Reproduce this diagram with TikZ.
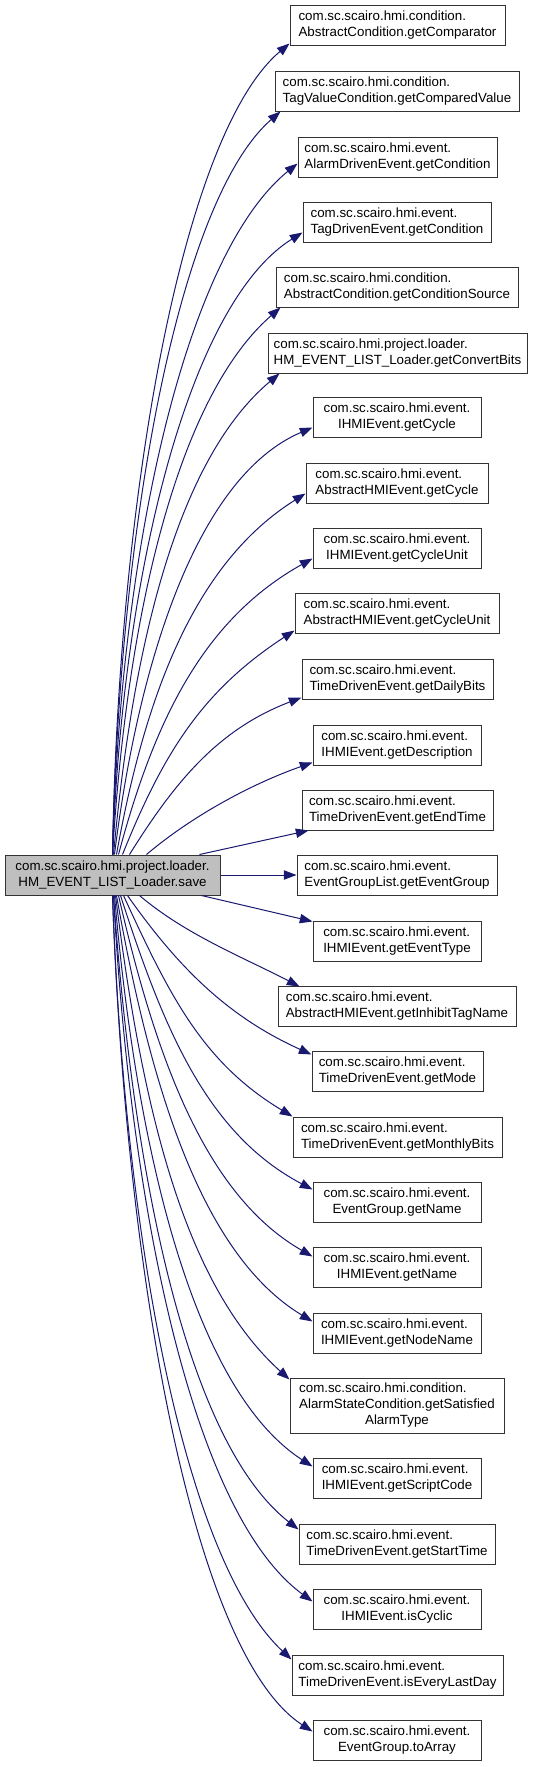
\documentclass[tikz,border=0pt]{standalone}
\usepackage{fontspec}
\setmainfont{Liberation Sans}
\usetikzlibrary{arrows.meta,calc}
\definecolor{edgeblue}{HTML}{191970}
\definecolor{mainfill}{HTML}{BFBFBF}
\newcommand\twol[2]{%
  \setbox0=\hbox{#1}\setbox2=\hbox{#2}%
  \dimen0=\wd0 \ifdim\wd2>\dimen0 \dimen0=\wd2\fi
  \vbox{\hbox to\dimen0{#1\hfil}\hbox to\dimen0{\hfil#2\hfil}}}
\newcommand\threel[3]{%
  \setbox0=\hbox{#1}\setbox2=\hbox{#2}\setbox4=\hbox{#3}%
  \dimen0=\wd0 \ifdim\wd2>\dimen0 \dimen0=\wd2\fi
  \ifdim\wd4>\dimen0 \dimen0=\wd4\fi
  \vbox{\hbox to\dimen0{#1\hfil}\hbox to\dimen0{#2\hfil}\hbox to\dimen0{\hfil#3\hfil}}}
\begin{document}
\begin{tikzpicture}[x=0.75pt,y=-0.75pt,
  box/.style={draw=black!80, fill=white, line width=0.75pt, inner sep=0pt,
    minimum height=30pt, font=\fontsize{10}{12}\selectfont},
  wbox/.style={box, minimum width=#1*0.75pt},
  conn/.style={draw=edgeblue, line width=0.75pt, -{Triangle[length=9.5pt,width=7pt]}}]
\useasboundingbox[fill=white] (0,0) rectangle (532,1767);

\node[wbox=215, fill=mainfill] (main) at (112.5,875) {\twol{com.sc.scairo.hmi.project.loader.}{HM\_EVENT\_LIST\_Loader.save}};

\node[wbox=215] (t0) at (397.5,25) {\twol{com.sc.scairo.hmi.condition.}{AbstractCondition.getComparator}};
\node[wbox=244] (t1) at (397,91) {\twol{com.sc.scairo.hmi.condition.}{TagValueCondition.getComparedValue}};
\node[wbox=199] (t2) at (397.5,157) {\twol{com.sc.scairo.hmi.event.}{AlarmDrivenEvent.getCondition}};
\node[wbox=188] (t3) at (397,222) {\twol{com.sc.scairo.hmi.event.}{TagDrivenEvent.getCondition}};
\node[wbox=242] (t4) at (397,287) {\twol{com.sc.scairo.hmi.condition.}{AbstractCondition.getConditionSource}};
\node[wbox=259] (t5) at (397.5,353) {\twol{com.sc.scairo.hmi.project.loader.}{HM\_EVENT\_LIST\_Loader.getConvertBits}};
\node[wbox=168] (t6) at (397,417) {\twol{com.sc.scairo.hmi.event.}{IHMIEvent.getCycle}};
\node[wbox=182] (t7) at (397,483) {\twol{com.sc.scairo.hmi.event.}{AbstractHMIEvent.getCycle}};
\node[wbox=168] (t8) at (397,548) {\twol{com.sc.scairo.hmi.event.}{IHMIEvent.getCycleUnit}};
\node[wbox=204] (t9) at (397,613) {\twol{com.sc.scairo.hmi.event.}{AbstractHMIEvent.getCycleUnit}};
\node[wbox=191] (t10) at (397.5,679) {\twol{com.sc.scairo.hmi.event.}{TimeDrivenEvent.getDailyBits}};
\node[wbox=168] (t11) at (397,745) {\twol{com.sc.scairo.hmi.event.}{IHMIEvent.getDescription}};
\node[wbox=191] (t12) at (397.5,810) {\twol{com.sc.scairo.hmi.event.}{TimeDrivenEvent.getEndTime}};
\node[wbox=200] (t13) at (397,875) {\twol{com.sc.scairo.hmi.event.}{EventGroupList.getEventGroup}};
\node[wbox=168] (t14) at (397,941) {\twol{com.sc.scairo.hmi.event.}{IHMIEvent.getEventType}};
\node[wbox=238] (t15) at (397,1006) {\twol{com.sc.scairo.hmi.event.}{AbstractHMIEvent.getInhibitTagName}};
\node[wbox=171] (t16) at (397.5,1071) {\twol{com.sc.scairo.hmi.event.}{TimeDrivenEvent.getMode}};
\node[wbox=209] (t17) at (397.5,1137) {\twol{com.sc.scairo.hmi.event.}{TimeDrivenEvent.getMonthlyBits}};
\node[wbox=168] (t18) at (397,1202) {\twol{com.sc.scairo.hmi.event.}{EventGroup.getName}};
\node[wbox=168] (t19) at (397,1267) {\twol{com.sc.scairo.hmi.event.}{IHMIEvent.getName}};
\node[wbox=168] (t20) at (397,1333) {\twol{com.sc.scairo.hmi.event.}{IHMIEvent.getNodeName}};
\node[wbox=214, minimum height=41.25pt] (t21) at (397,1405.5) {\threel{com.sc.scairo.hmi.condition.}{AlarmStateCondition.getSatisfied}{AlarmType}};
\node[wbox=168] (t22) at (397,1478) {\twol{com.sc.scairo.hmi.event.}{IHMIEvent.getScriptCode}};
\node[wbox=196] (t23) at (397,1544) {\twol{com.sc.scairo.hmi.event.}{TimeDrivenEvent.getStartTime}};
\node[wbox=168] (t24) at (397,1609) {\twol{com.sc.scairo.hmi.event.}{IHMIEvent.isCyclic}};
\node[wbox=211] (t25) at (397.5,1675) {\twol{com.sc.scairo.hmi.event.}{TimeDrivenEvent.isEveryLastDay}};
\node[wbox=168] (t26) at (397,1740) {\twol{com.sc.scairo.hmi.event.}{EventGroup.toArray}};

\foreach \i/\s/\ax/\ay/\bx/\by/\ex/\ey in {
  0/108/6/-365/-106/89/0/-2,
  1/108/7/-335/-101/88/6/0,
  2/108/8/-311/-111/90/0/-14,
  3/108/10/-280/-114/71/0/-10,
  4/108/15/-247/-101/88/5/0,
  5/109/20/-217/-100/84/12/0,
  6/110/24/-194/-115/49/0/-10,
  7/112/29/-162/-110/69/0/-10,
  8/114/36/-135/-109/61/0/-10,
  9/118/41/-102/-92/60/0/-3,
  10/125/45/-72/-84/32/0/-2,
  11/142/46/-39/-60/21/0/-3}
{
  \coordinate (s\i) at ($(main.north west)+(\s,0)$);
  \coordinate (e\i) at ($(t\i.south west)+(\ex,\ey)$);
  \draw[conn] (s\i) .. controls ($(s\i)+(\ax,\ay)$) and ($(e\i)+(\bx,\by)$) .. (e\i);
}

\draw[conn] ($(main.north west)+(195,0)$) -- ($(t12.south west)+(7,0)$);
\draw[conn] (main.east) -- (t13.west);
\draw[conn] ($(main.south west)+(197,0)$) -- ($(t14.north west)+(0,1)$);

\foreach \i/\s/\ax/\ay/\bx/\by/\ex/\ey in {
  15/135/46/39/-58/-30/22/1,
  16/123/52/74/-82/-37/0/4,
  17/119/46/100/-90/-54/0/0,
  18/116/43/133/-106/-56/0/8,
  19/114/37/161/-108/-62/0/10,
  20/112/34/192/-111/-67/0/9,
  21/111/27/218/-104/-94/0/2,
  22/110/22/256/-119/-77/0/9,
  23/109/20/285/-111/-87/0/6,
  24/109/17/318/-119/-87/0/13,
  25/108/12/344/-107/-100/0/5,
  26/108/13/377/-120/-78/0/12}
{
  \coordinate (s\i) at ($(main.south west)+(\s,0)$);
  \coordinate (e\i) at ($(t\i.north west)+(\ex,\ey)$);
  \draw[conn] (s\i) .. controls ($(s\i)+(\ax,\ay)$) and ($(e\i)+(\bx,\by)$) .. (e\i);
}
\end{tikzpicture}
\end{document}
